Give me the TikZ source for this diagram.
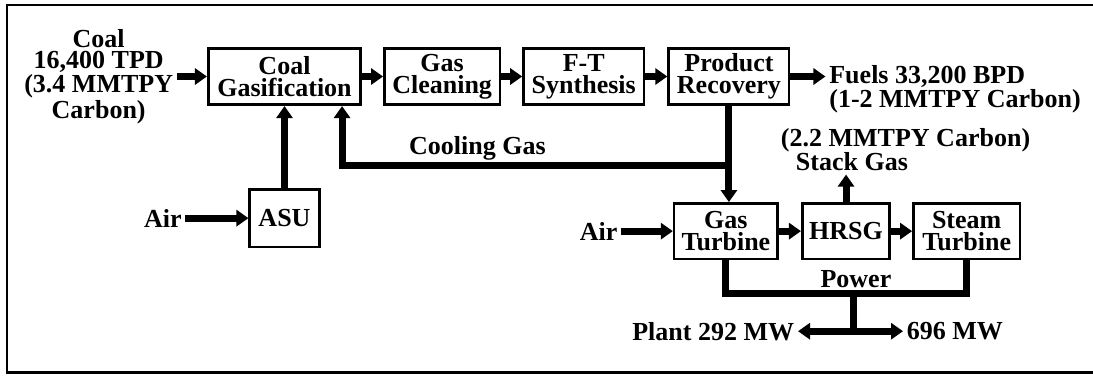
\documentclass[tikz,border=0pt]{standalone}
\usepackage{fontspec}
\setmainfont{Liberation Serif}
\usetikzlibrary{arrows.meta, positioning, calc}
\tikzset{
  >={Triangle[length=0.24cm, width=0.32cm]},
  unit/.style={
    rectangle, draw, line width=1.5pt, minimum width=#1, minimum height=1.13cm,
    inner sep=0pt, align=center, font=\bfseries\fontsize{14.8}{12.5}\selectfont
  },
  flow/.style={
    ->, line width=0.14cm
  },
  wire/.style={
    line width=0.14cm
  },
  tag/.style={
    inner sep=2pt, font=\bfseries\fontsize{14.8}{#1}\selectfont
  },
  tag/.default=12.2
}
\begin{document}
\begin{tikzpicture}

  \useasboundingbox (0,0) rectangle (21.86,-7.5);
  \draw[line width=1.2pt] (22.5,-0.1) -| (0.14,-7.45) -- (22.5,-7.45);

  % F-T line
  \node[unit=3.05cm] (gasif) at (5.69,-1.53) {Coal\\Gasification};
  \node[unit=2.31cm, right=0.42cm of gasif] (clean) {Gas\\Cleaning};
  \node[unit=2.41cm, right=0.42cm of clean] (ft) {F-T\\Synthesis};
  \node[unit=2.41cm, right=0.44cm of ft] (prod) {Product\\Recovery};
  \node[unit=1.39cm, minimum height=1.15cm, below=1.64cm of gasif] (asu) {ASU};

  \draw[flow] (gasif) -- (clean);
  \draw[flow] (clean) -- (ft);
  \draw[flow] (ft) -- (prod);
  \draw[flow] (asu) -- (gasif);

  \node[tag, align=center, left=0.6cm of gasif] (coal) {Coal\\16,400 TPD\\(3.4 MMTPY\\Carbon)};
  \node[tag=13.6, align=left, right=0.7cm of prod, yshift=-0.25cm] (fuels)
    {Fuels 33,200 BPD\\(1-2 MMTPY Carbon)};
  \node[tag, left=1.26cm of asu] (air1) {Air};

  \draw[flow] (coal) -- (gasif);
  \draw[flow] (prod) -- (prod -| fuels.west);
  \draw[flow] (air1) -- (asu);

  % Power island
  \node[unit=2.07cm, minimum height=1.11cm, below=1.92cm of prod, xshift=-0.06cm] (gt) {Gas\\Turbine};
  \node[unit=1.75cm, minimum height=1.11cm, right=0.44cm of gt] (hrsg) {HRSG};
  \node[unit=2.13cm, minimum height=1.11cm, right=0.42cm of hrsg] (st) {Steam\\Turbine};
  \node[tag, left=1.03cm of gt] (air2) {Air};
  \node[tag=13.6, align=left, above=0.55cm of hrsg, xshift=1.19cm] (stack)
    {(2.2 MMTPY Carbon)\\\hspace*{0.3cm}Stack Gas};

  \draw[flow] (air2) -- (gt);
  \draw[flow] (gt) -- (hrsg);
  \draw[flow] (hrsg) -- (st);
  \draw[flow] (hrsg) -- (hrsg |- stack.south);

  % Cooling gas back to the gasifier
  \coordinate[below=1.18cm of prod.south] (cool);
  \draw[flow] (prod) -- (prod |- gt.north);
  \draw[flow] (cool) -| ([xshift=-0.4cm]gasif.south east)
    node[tag, pos=0.325, above, inner sep=1pt] {Cooling Gas};

  % Power bus
  \coordinate[below=0.66cm of gt.south] (bus);
  \draw[wire] (gt.south) -- (bus) -| (st.south)
    node[tag, pos=0.27, above, inner sep=1pt] {Power};
  \coordinate (tap) at ($(bus)!0.53!(bus -| st.south)$);
  \coordinate[below=0.76cm of tap] (fork);
  \node[tag, left=1.11cm of fork] (plant) {Plant 292 MW};
  \node[tag, right=0.99cm of fork] (grid) {696 MW};

  \draw[wire] (tap) -- (fork);
  \draw[flow, <->] (plant) -- (grid);

\end{tikzpicture}
\end{document}
